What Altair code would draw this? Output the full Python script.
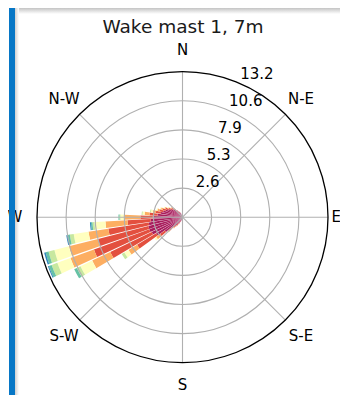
import math
import altair as alt
import pandas as pd

TITLE = "Wake mast 1, 7m"
compass_names = ["N", "N-E", "E", "S-E", "S", "S-W", "W", "N-W"]
compass_deg = [0, 45, 90, 135, 180, 225, 270, 315]
compass_r = [15.2, 15.2, 13.95, 15.2, 15.2, 15.2, 15.2, 15.2]
ring_r = [2.64, 5.28, 7.92, 10.56]
outer_r = [13.2]
ring_text = ["2.6", "5.3", "7.9", "10.6", "13.2"]
ring_text_r = [2.64, 5.28, 7.92, 10.56, 13.2]

directions = [202.5, 208.125, 213.75, 219.375, 225.0, 230.625, 236.25, 241.875,
              247.5, 253.125, 258.75, 264.375, 270.0, 275.625, 281.25, 286.875,
              292.5, 298.125, 303.75, 309.375, 315.0, 320.625, 326.25, 331.875, 337.5]
bin_colors = ["#a81d5c", "#e3503f", "#fdae61", "#ffffbf", "#c7e89f", "#66c2a5", "#3288bd"]

# frequency (%) per speed bin, one value per direction
f0 = [0.36, 0.55, 0.73, 1.00, 1.36, 2.00, 2.80, 3.10, 3.20, 3.20, 3.10, 2.90, 2.70,
      2.27, 2.00, 1.82, 1.64, 1.45, 1.27, 1.09, 0.91, 0.73, 0.55, 0.45, 0.36]
f1 = [0.09, 0.09, 0.18, 0.18, 0.27, 0.55, 2.02, 4.17, 5.35, 4.71, 3.71, 2.10, 1.12,
      0.73, 0.45, 0.36, 0.27, 0.27, 0.18, 0.18, 0.09, 0.09, 0.09, 0.09, 0.00]
f2 = [0.00, 0.09, 0.09, 0.09, 0.18, 0.45, 0.91, 1.82, 2.27, 2.73, 1.82, 2.00, 1.45,
      0.45, 0.27, 0.18, 0.18, 0.09, 0.09, 0.09, 0.09, 0.00, 0.00, 0.00, 0.00]
f3 = [0.00, 0.00, 0.00, 0.00, 0.09, 0.18, 0.45, 1.18, 1.27, 1.36, 1.36, 1.00, 0.36,
      0.18, 0.18, 0.09, 0.09, 0.09, 0.09, 0.00, 0.00, 0.00, 0.00, 0.00, 0.00]
f4 = [0.00, 0.00, 0.00, 0.00, 0.00, 0.00, 0.27, 0.36, 0.55, 0.55, 0.36, 0.18, 0.09,
      0.09, 0.09, 0.00, 0.00, 0.00, 0.00, 0.00, 0.00, 0.00, 0.00, 0.00, 0.00]
f5 = [0.00, 0.00, 0.00, 0.00, 0.00, 0.00, 0.00, 0.27, 0.27, 0.27, 0.18, 0.14, 0.09,
      0.00, 0.00, 0.00, 0.00, 0.00, 0.00, 0.00, 0.00, 0.00, 0.00, 0.00, 0.00]
f6 = [0.00, 0.00, 0.00, 0.00, 0.00, 0.00, 0.00, 0.00, 0.09, 0.14, 0.14, 0.09, 0.00,
      0.00, 0.00, 0.00, 0.00, 0.00, 0.00, 0.00, 0.00, 0.00, 0.00, 0.00, 0.00]
bins = [f0, f1, f2, f3, f4, f5, f6]

rows = []
for bi, arr in enumerate(bins):
    for d, v in zip(directions, arr):
        if v > 0:
            rows.append({"dir": d, "bin": bi, "freq": v})
bars_df = pd.DataFrame(rows)

W, H = 332, 387
CX, CY = 174.5, 209.2
R = 145.5
HALF = 2.8125 * 0.88
FONT = "DejaVu Sans"

rscale = alt.Scale(domain=[0, 13.2], range=[0, R])
tscale = alt.Scale(domain=[0, 360], range=[0, 2 * math.pi])
xscale = alt.Scale(domain=[-13.2, 13.2], range=[CX - R, CX + R])
yscale = alt.Scale(domain=[-13.2, 13.2], range=[CY + R, CY - R])

bars = alt.Chart(bars_df).transform_stack(
    stack="freq", groupby=["dir"], as_=["r0", "r1"],
    sort=[alt.SortField("bin", order="ascending")]
).transform_calculate(
    t0=f"datum.dir - {HALF}", t1=f"datum.dir + {HALF}"
).mark_arc().encode(
    theta=alt.Theta("t0:Q", scale=tscale, stack=False),
    theta2="t1:Q",
    radius=alt.Radius("r0:Q", scale=rscale, stack=False),
    radius2="r1:Q",
    color=alt.Color("bin:O", scale=alt.Scale(domain=list(range(7)), range=bin_colors), legend=None),
    x=alt.value(CX), y=alt.value(CY),
)

rings = alt.Chart(pd.DataFrame({"r": ring_r})).mark_arc(
    fillOpacity=0, stroke="#b0b0b0", strokeWidth=1.1
).encode(
    theta=alt.value(0), theta2=alt.value(2 * math.pi),
    radius=alt.Radius("r:Q", scale=rscale, stack=False),
    x=alt.value(CX), y=alt.value(CY),
)

outer = alt.Chart(pd.DataFrame({"r": outer_r})).mark_arc(
    fillOpacity=0, stroke="black", strokeWidth=1.3
).encode(
    theta=alt.value(0), theta2=alt.value(2 * math.pi),
    radius=alt.Radius("r:Q", scale=rscale, stack=False),
    x=alt.value(CX), y=alt.value(CY),
)

spokes = alt.Chart(pd.DataFrame({"a": compass_deg})).transform_calculate(
    x0="0", y0="0",
    x1="13.2*sin(datum.a*PI/180)", y1="13.2*cos(datum.a*PI/180)",
).mark_rule(color="#b0b0b0", strokeWidth=1.1).encode(
    x=alt.X("x0:Q", scale=xscale, axis=None),
    y=alt.Y("y0:Q", scale=yscale, axis=None),
    x2="x1:Q", y2="y1:Q",
)

compass = alt.Chart(pd.DataFrame({"a": compass_deg, "name": compass_names, "r": compass_r})).transform_calculate(
    lx="datum.r*sin(datum.a*PI/180)", ly="datum.r*cos(datum.a*PI/180)",
).mark_text(font=FONT, fontSize=15, align="center", baseline="middle", color="black").encode(
    x=alt.X("lx:Q", scale=xscale, axis=None),
    y=alt.Y("ly:Q", scale=yscale, axis=None),
    text="name:N",
)

ringlab = alt.Chart(pd.DataFrame({"r": ring_text_r, "t": ring_text})).transform_calculate(
    lx="datum.r*sin(22.5*PI/180)", ly="datum.r*cos(22.5*PI/180)",
).mark_text(font=FONT, fontSize=15, align="left", baseline="alphabetic", dx=2, dy=-3.5,
            color="black").encode(
    x=alt.X("lx:Q", scale=xscale, axis=None),
    y=alt.Y("ly:Q", scale=yscale, axis=None),
    text="t:N",
)

title = alt.Chart(pd.DataFrame({"t": [TITLE]})).mark_text(
    font=FONT, fontSize=18.5, align="center", baseline="alphabetic", color="#1a1a1a"
).encode(x=alt.value(175), y=alt.value(25), text="t:N")

top_shadow = alt.Chart(pd.DataFrame({"k": [0]})).mark_rect(
    color=alt.LinearGradient(gradient="linear",
                             stops=[alt.GradientStop(offset=0, color="#c4c4c4"),
                                    alt.GradientStop(offset=1, color="#ffffff")],
                             x1=0, x2=0, y1=0, y2=1)
).encode(x=alt.value(7), x2=alt.value(W), y=alt.value(0), y2=alt.value(6))

side_shadow = alt.Chart(pd.DataFrame({"k": [0]})).mark_rect(
    color=alt.LinearGradient(gradient="linear",
                             stops=[alt.GradientStop(offset=0, color="#d0d0d0"),
                                    alt.GradientStop(offset=1, color="#ffffff")],
                             x1=0, x2=1, y1=0, y2=0)
).encode(x=alt.value(7), x2=alt.value(11), y=alt.value(0), y2=alt.value(H))

frame = alt.Chart(pd.DataFrame({"k": [0]})).mark_rect(color="#0777c6").encode(
    x=alt.value(1), x2=alt.value(7), y=alt.value(0), y2=alt.value(H)
)

chart = alt.layer(
    top_shadow, side_shadow, bars, rings, spokes, outer, compass, ringlab, title, frame
).properties(
    width=W, height=H, autosize=alt.AutoSizeParams(type="none"), padding=0
).configure_view(strokeWidth=0)

chart.save("out.html", embed_options={"renderer": "svg", "actions": False})
